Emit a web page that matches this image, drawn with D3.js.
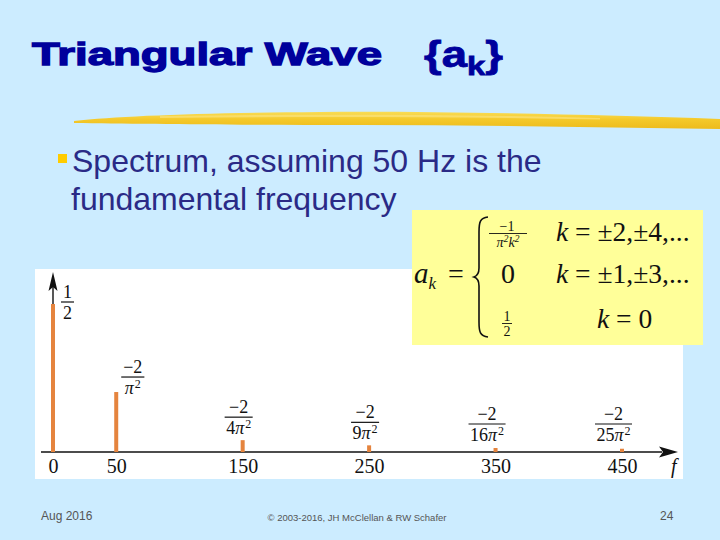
<!DOCTYPE html>
<html>
<head>
<meta charset="utf-8">
<script src="https://cdn.jsdelivr.net/npm/d3@7"></script>
<style>
  html, body { margin: 0; padding: 0; background: #CCECFF; }
  svg { display: block; }
</style>
</head>
<body>
<svg id="chart" width="720" height="540"></svg>
<script>
// ---- data ----
const freqs = [0, 50, 150, 250, 350, 450];            // Hz
const magnitudes = [0.5, 0.2026, 0.04, 0.0225, 0.0135, 0.011]; // |a_k| as drawn
const numerators = ["1", "\u22122", "\u22122", "\u22122", "\u22122", "\u22122"];
const denomCoef = ["2", "", "4", "9", "16", "25"];     // denominator coefficient of pi^2
const hasPi = [false, true, true, true, true, true];
const tickLabels = ["0", "50", "150", "250", "350", "450"];

const svg = d3.select("#chart");
const W = 720, H = 540;

svg.append("rect").attr("width", W).attr("height", H).attr("fill", "#CCECFF");

// ---- title ----
svg.append("text")
  .attr("x", 32).attr("y", 65)
  .attr("font-family", "Liberation Sans, Arial, sans-serif")
  .attr("font-weight", "bold").attr("font-size", 32)
  .attr("fill", "#00009C").attr("stroke", "#00009C").attr("stroke-width", 1.3)
  .attr("textLength", 350).attr("lengthAdjust", "spacingAndGlyphs")
  .text("Triangular Wave");
const t2 = svg.append("text")
  .attr("x", 424).attr("y", 67)
  .attr("font-family", "Liberation Sans, Arial, sans-serif")
  .attr("font-weight", "bold").attr("font-size", 36)
  .attr("fill", "#00009C").attr("stroke", "#00009C").attr("stroke-width", 0.8)
  .attr("textLength", 79).attr("lengthAdjust", "spacingAndGlyphs");
t2.append("tspan").text("{a");
t2.append("tspan").attr("font-size", 26).attr("dy", 8).text("k");
t2.append("tspan").attr("dy", -8).text("}");

// ---- brush stroke ----
const defs = svg.append("defs");
const grad = defs.append("linearGradient").attr("id", "brush")
  .attr("x1", 0).attr("y1", 0).attr("x2", 0).attr("y2", 1);
grad.append("stop").attr("offset", "0%").attr("stop-color", "#F9DC55");
grad.append("stop").attr("offset", "45%").attr("stop-color", "#F4C92A");
grad.append("stop").attr("offset", "100%").attr("stop-color", "#EDBB1C");
svg.append("path")
  .attr("d", "M74,121 C120,116 200,113 320,112 C450,111 600,115 720,119 L720,129 C600,127 480,125 360,125 C240,125 140,124 74,123 Z")
  .attr("fill", "url(#brush)");
svg.append("path")
  .attr("d", "M160,116 C300,114 450,114 600,118 L600,119.5 C450,116.5 300,116.5 160,118 Z")
  .attr("fill", "#FBE27A").attr("opacity", 0.7);

// ---- bullet text ----
svg.append("rect").attr("x", 58).attr("y", 154).attr("width", 9).attr("height", 9).attr("fill", "#FFCC00");
const bodyFont = "Liberation Sans, Arial, sans-serif";
svg.append("text").attr("x", 72).attr("y", 172)
  .attr("font-family", bodyFont).attr("font-size", 32).attr("fill", "#2A2A86")
  .text("Spectrum, assuming 50 Hz is the");
svg.append("text").attr("x", 71).attr("y", 210)
  .attr("font-family", bodyFont).attr("font-size", 32).attr("fill", "#2A2A86")
  .text("fundamental frequency");

// ---- chart panel ----
svg.append("rect").attr("x", 35).attr("y", 269).attr("width", 648).attr("height", 210).attr("fill", "#FFFFFF");

const x = d3.scaleLinear().domain([0, 450]).range([53, 622]);
const y = d3.scaleLinear().domain([0, 0.5]).range([452, 304]);
const serif = "Liberation Serif, Times New Roman, serif";

// x axis ticks via d3 axis
const axisG = svg.append("g").attr("transform", `translate(0,${y(0)})`)
  .call(d3.axisBottom(x).tickValues(freqs).tickFormat((d, i) => tickLabels[i]).tickSize(0).tickPadding(7));
axisG.select(".domain").remove();
axisG.selectAll("text").attr("font-family", serif).attr("font-size", 20).attr("fill", "#111");

// axis lines with arrows
svg.append("line").attr("x1", 41).attr("x2", 662).attr("y1", y(0)).attr("y2", y(0))
  .attr("stroke", "#111").attr("stroke-width", 1.4);
svg.append("path")
  .attr("d", `M678,${y(0)} L659,${y(0) - 5.5} L663,${y(0)} L659,${y(0) + 5.5} Z`)
  .attr("fill", "#111");
svg.append("line").attr("x1", x(0)).attr("x2", x(0)).attr("y1", y(0)).attr("y2", 286)
  .attr("stroke", "#111").attr("stroke-width", 1.4);
svg.append("path")
  .attr("d", `M${x(0)},272 L${x(0) - 4.5},291 L${x(0)},287 L${x(0) + 4.5},291 Z`)
  .attr("fill", "#111");
svg.append("text").attr("x", 671).attr("y", 473)
  .attr("font-family", serif).attr("font-style", "italic").attr("font-size", 20).attr("fill", "#111")
  .text("f");

// bars (drawn above the axis line)
svg.append("g").selectAll("rect").data(freqs).join("rect")
  .attr("x", (d) => x(d) - 2)
  .attr("width", 4)
  .attr("y", (d, i) => y(magnitudes[i]))
  .attr("height", (d, i) => y(0) - y(magnitudes[i]))
  .attr("fill", "#E5843E");

// fraction labels
const fs = 18;
freqs.forEach((f, i) => {
  const g = svg.append("g");
  const num = g.append("text").attr("font-family", serif).attr("font-size", fs).attr("fill", "#111")
    .attr("text-anchor", "middle").text(numerators[i]);
  const den = g.append("text").attr("font-family", serif).attr("font-size", fs).attr("fill", "#111")
    .attr("text-anchor", "middle");
  den.append("tspan").text(denomCoef[i]);
  if (hasPi[i]) {
    den.append("tspan").attr("font-style", "italic").text("\u03C0");
    den.append("tspan").attr("font-size", 12).attr("dy", -6).attr("dx", 1).text("2");
  }
  const w = Math.max(num.node().getComputedTextLength(), den.node().getComputedTextLength()) + 4;
  const top = y(magnitudes[i]);
  let cx, ly;
  if (i === 0) { cx = x(f) + 8 + w / 2; ly = top - 2; }
  else if (i === 1) { cx = x(f) + 5 + w / 2; ly = top - 15; }
  else { cx = x(f) + 10 - w / 2; ly = Math.min(top - 23, 424); }
  num.attr("x", cx).attr("y", ly - 4);
  den.attr("x", cx).attr("y", ly + 17);
  g.append("line").attr("x1", cx - w / 2).attr("x2", cx + w / 2).attr("y1", ly).attr("y2", ly)
    .attr("stroke", "#111").attr("stroke-width", 1.2);
});

// ---- formula box ----
svg.append("rect").attr("x", 412).attr("y", 210).attr("width", 291).attr("height", 135).attr("fill", "#FFFF99");
const fg = svg.append("g").attr("font-family", serif).attr("fill", "#111");
const ak = fg.append("text").attr("x", 414).attr("y", 283).attr("font-size", 29);
ak.append("tspan").attr("font-style", "italic").text("a");
ak.append("tspan").attr("font-style", "italic").attr("font-size", 17).attr("dy", 6).text("k");
fg.append("text").attr("x", 448).attr("y", 283).attr("font-size", 28).text("=");
// brace
fg.append("path")
  .attr("d", "M488,217 C480,218 479,222 479,232 L479,268 C479,274 477,276 474,277 C477,278 479,280 479,286 L479,322 C479,332 480,336 488,337")
  .attr("fill", "none").attr("stroke", "#111").attr("stroke-width", 1.6);
// row 1
fg.append("text").attr("x", 507).attr("y", 231).attr("font-size", 14).attr("text-anchor", "middle").text("\u22121");
fg.append("line").attr("x1", 489).attr("x2", 527).attr("y1", 233.5).attr("y2", 233.5).attr("stroke", "#111").attr("stroke-width", 0.9);
const d1 = fg.append("text").attr("x", 508).attr("y", 247).attr("font-size", 14).attr("text-anchor", "middle").attr("font-style", "italic");
d1.append("tspan").text("\u03C0");
d1.append("tspan").attr("font-size", 10).attr("dy", -5).text("2");
d1.append("tspan").attr("dy", 5).text("k");
d1.append("tspan").attr("font-size", 10).attr("dy", -5).text("2");
const r1 = fg.append("text").attr("x", 556).attr("y", 241).attr("font-size", 27.5);
r1.append("tspan").attr("font-style", "italic").text("k");
r1.append("tspan").text(" = \u00B12,\u00B14,...");
// row 2
fg.append("text").attr("x", 501).attr("y", 283).attr("font-size", 28).text("0");
const r2 = fg.append("text").attr("x", 556).attr("y", 283).attr("font-size", 27.5);
r2.append("tspan").attr("font-style", "italic").text("k");
r2.append("tspan").text(" = \u00B11,\u00B13,...");
// row 3
fg.append("text").attr("x", 507).attr("y", 321).attr("font-size", 14).attr("text-anchor", "middle").text("1");
fg.append("line").attr("x1", 502).attr("x2", 512).attr("y1", 323.5).attr("y2", 323.5).attr("stroke", "#111").attr("stroke-width", 0.9);
fg.append("text").attr("x", 507).attr("y", 336).attr("font-size", 14).attr("text-anchor", "middle").text("2");
const r3 = fg.append("text").attr("x", 597).attr("y", 328).attr("font-size", 27.5);
r3.append("tspan").attr("font-style", "italic").text("k");
r3.append("tspan").text(" = 0");

// ---- footer ----
svg.append("text").attr("x", 41).attr("y", 520).attr("font-family", bodyFont).attr("font-size", 12).attr("fill", "#555").text("Aug 2016");
svg.append("text").attr("x", 357).attr("y", 521).attr("text-anchor", "middle").attr("font-family", bodyFont).attr("font-size", 9.5).attr("fill", "#555")
  .text("\u00A9 2003-2016, JH McClellan & RW Schafer");
svg.append("text").attr("x", 660).attr("y", 520).attr("font-family", bodyFont).attr("font-size", 12).attr("fill", "#555").text("24");
</script>
</body>
</html>
